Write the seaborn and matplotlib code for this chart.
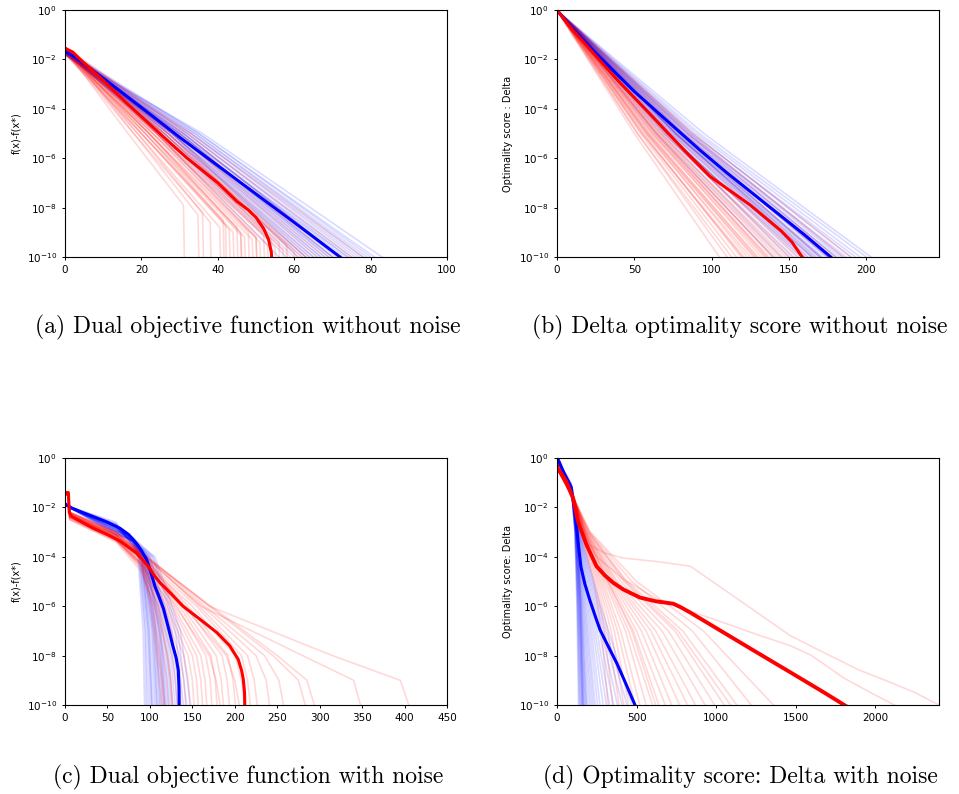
import numpy as np
import pandas as pd
import seaborn as sns
import matplotlib.pyplot as plt
from matplotlib.ticker import NullLocator

# ---------------------------------------------------------------
# Donnees (log10 des valeurs en ordonnee)
# ---------------------------------------------------------------

# (a) fonction objectif duale sans bruit
a_blue_bold_x = [0, 2, 6, 12, 20, 30, 40, 50, 60, 66, 72]
a_blue_bold_y = [-1.68, -1.85, -2.3, -3.0, -3.95, -5.15, -6.3, -7.45, -8.6, -9.3, -10.0]
a_red_bold_x = [0, 2, 5, 10, 16, 22, 28, 32, 36, 40, 45, 48, 50, 52, 53.3, 54, 54.3]
a_red_bold_y = [-1.55, -1.7, -2.15, -2.85, -3.75, -4.6, -5.45, -6.0, -6.5, -7.0, -7.75, -8.1, -8.4, -8.85, -9.3, -9.8, -10.5]

# essais individuels : depart, abscisse a 1e-5, fin
a_blue_y0 = [-1.6, -1.7, -1.65, -1.75, -1.7, -1.8, -1.65, -1.7, -1.75, -1.6, -1.7, -1.8, -1.65, -1.75, -1.7, -1.6,
             -1.8, -1.7, -1.65, -1.75, -1.7, -1.6, -1.8, -1.7, -1.65, -1.75, -1.7, -1.6, -1.8, -1.7, -1.65, -1.75]
a_blue_x5 = [24, 25, 25, 26, 26, 27, 27, 27, 28, 28, 28, 29, 29, 29, 30, 30,
             30, 31, 31, 31, 32, 32, 33, 33, 34, 34, 35, 35, 36, 29, 30, 28]
a_blue_end = [56, 58, 60, 61, 62, 63, 64, 65, 65, 66, 67, 67, 68, 69, 69, 70,
              71, 72, 72, 73, 74, 75, 76, 77, 78, 79, 80, 81, 83, 70, 74, 63]

a_red_y0 = [-1.6, -1.5, -1.7, -1.55, -1.65, -1.8, -1.5, -1.6, -1.75, -1.55, -1.65, -1.5, -1.7, -1.6, -1.55, -1.8,
            -1.65, -1.5, -1.7, -1.6, -1.55, -1.75, -1.6, -1.5, -1.65, -1.7, -1.55, -1.6, -1.5, -1.65, -1.6, -1.55,
            -1.5, -1.6, -1.7, -1.65, -1.55]
a_red_x5 = [16.5, 18, 18, 19, 19, 20, 20, 21, 21, 21, 22, 22, 22, 23, 23, 23,
            24, 24, 24, 25, 25, 26, 26, 27, 27, 28, 26, 28, 29, 29, 30, 31,
            32, 33, 20, 22, 24]
a_red_end = [31, 34.8, 36, 38, 40.5, 41.4, 43, 44, 45, 46, 47, 48, 49, 50, 51, 52,
             53, 54, 55, 56, 57, 58, 59, 60, 61, 62, 63, 64, 66, 68, 70, 72,
             75, 78, 42, 46, 50]
a_red_drop = [-7.9, -8.3, -8.2, -8.6, -8.8, -8.5, -8.9, -9.0, -8.8, -9.1, -9.2, -9.0, -9.3, -9.2, -9.4, -9.1,
              -9.5, -9.3, -9.6, -9.4, -9.7, -9.5, -10, -9.8, -10, -10, -10, -10, -10, -10, -10, -10,
              -10, -10, -8.7, -9.0, -9.2]

# (b) score d'optimalite Delta sans bruit
b_blue_bold_x = [0, 5, 10, 25, 50, 75, 92, 110, 125, 140, 160, 177]
b_blue_bold_y = [0, -0.38, -0.75, -1.75, -3.3, -4.7, -5.65, -6.6, -7.35, -8.1, -9.1, -10.0]
b_red_bold_x = [0, 10, 20, 40, 60, 82, 99, 125, 145, 152, 158.5]
b_red_bold_y = [0, -0.8, -1.5, -2.9, -4.2, -5.66, -6.74, -7.9, -8.95, -9.4, -10.0]

b_blue_x5 = [64, 67, 70, 69, 72, 71, 74, 73, 76, 74, 77, 76, 78, 79, 77, 80,
             81, 79, 82, 84, 82, 85, 86, 84, 88, 87, 90, 92, 95, 76, 77, 71]
b_blue_end = [140, 145, 150, 153, 156, 158, 160, 162, 164, 165, 167, 168, 170, 171, 172, 174,
              175, 176, 178, 180, 181, 183, 185, 187, 190, 193, 196, 200, 203, 170, 165, 160]
b_red_x5 = [50, 52, 52, 54, 56, 55, 58, 57, 59, 60, 59, 62, 61, 63, 62, 65, 64, 66,
            65, 68, 67, 70, 69, 72, 71, 75, 77, 80, 82, 84, 86, 88, 55, 58, 64]
b_red_end = [105, 110, 113, 116, 119, 121, 123, 125, 127, 129, 130, 132, 134, 135, 137, 139, 140, 142,
             144, 146, 148, 150, 152, 155, 158, 162, 166, 170, 175, 180, 185, 190, 120, 128, 136]

# (c) fonction objectif duale avec bruit
c_blue_bold_x = [0, 8, 20, 33, 50, 65, 75, 84, 90, 96, 100, 106, 110, 116, 122, 127, 131, 133.5, 134.3, 134.6]
c_blue_bold_y = [-1.85, -2.03, -2.2, -2.37, -2.6, -2.85, -3.1, -3.45, -3.75, -4.1, -4.5, -5.2, -5.55, -6.1,
                 -6.9, -7.6, -8.1, -8.6, -9.3, -10.5]
c_red_bold_x = [0, 4, 5, 8, 20, 33, 50, 65, 84, 98, 104, 112, 120, 139, 159, 179, 194, 204, 208, 210, 211.5, 212]
c_red_bold_y = [-1.4, -1.4, -2.2, -2.37, -2.6, -2.84, -3.1, -3.37, -3.84, -4.38, -4.7, -5.05, -5.32, -6.0,
                -6.53, -7.07, -7.6, -8.15, -8.6, -8.95, -9.5, -10.5]

# essais bleus : valeurs a t=60 et t=80, abscisses a 1e-4, 1e-7, fin
c_blue_y60 = [-2.6, -2.65, -2.7, -2.75, -2.7, -2.8, -2.8, -2.85, -2.9, -2.75, -2.8, -2.9, -2.95, -2.85,
              -3.0, -2.9, -2.8, -3.0, -2.9, -3.05, -2.95, -3.0, -3.1, -2.95, -3.1, -2.7, -2.85, -2.8]
c_blue_y80 = [-3.6, -3.55, -3.5, -3.5, -3.45, -3.45, -3.4, -3.4, -3.4, -3.35, -3.35, -3.35, -3.4, -3.3,
              -3.4, -3.3, -3.25, -3.35, -3.25, -3.35, -3.25, -3.3, -3.35, -3.2, -3.3, -3.4, -3.4, -3.3]
c_blue_x4 = [86, 87, 88, 88, 89, 90, 90, 91, 92, 92, 93, 93, 94, 94,
             95, 95, 96, 97, 98, 99, 100, 101, 103, 104, 106, 90, 91, 94]
c_blue_x7 = [92, 94, 95, 97, 99, 100, 102, 103, 105, 106, 107, 108, 110, 111,
             113, 114, 116, 118, 120, 122, 124, 126, 130, 133, 136, 98, 104, 112]
c_blue_end = [94, 96, 98, 100, 102, 104, 106, 108, 110, 112, 113, 115, 116, 118,
              120, 122, 124, 126, 128, 131, 134, 137, 141, 145, 150, 103, 109, 119]

# essais rouges : valeurs a t=5, 60, 90 puis abscisses a 1e-6, 1e-8, 1e-9, fin
c_red_y5 = [-2.4, -2.3, -2.5, -2.2, -2.4, -2.3, -2.45, -2.2, -2.35, -2.3, -2.4, -2.25, -2.3, -2.4, -2.2,
            -2.3, -2.25, -2.35, -2.3, -2.2, -2.3, -2.25, -2.2, -2.3, -2.25, -2.2, -2.45, -2.5, -2.3, -2.35]
c_red_y60 = [-3.3, -3.2, -3.4, -3.1, -3.3, -3.2, -3.35, -3.0, -3.25, -3.15, -3.3, -3.1, -3.2, -3.3, -3.0,
             -3.2, -3.1, -3.25, -3.15, -3.0, -3.2, -3.1, -3.05, -3.15, -3.1, -3.0, -3.3, -3.35, -3.1, -3.2]
c_red_y90 = [-4.5, -4.3, -4.6, -4.0, -4.4, -4.1, -4.3, -3.9, -4.2, -4.0, -4.3, -3.9, -4.1, -4.2, -3.8,
             -4.0, -3.9, -4.1, -4.0, -3.8, -3.9, -3.8, -3.85, -3.9, -3.9, -3.8, -4.3, -4.4, -4.0, -4.1]
c_red_x6 = [101, 104, 106, 108, 110, 113, 116, 118, 120, 123, 126, 128, 132, 135, 138,
            142, 145, 150, 155, 158, 162, 165, 170, 172, 160, 170, 110, 103, 140, 130]
c_red_x8 = [108, 112, 116, 121, 126, 131, 135, 140, 145, 150, 155, 160, 166, 172, 178,
            185, 192, 200, 208, 215, 225, 235, 245, 250, 280, 315, 120, 110, 190, 170]
c_red_x9 = [111, 115, 120, 125, 130, 135, 140, 145, 150, 155, 160, 165, 171, 177, 184,
            191, 198, 208, 215, 223, 237, 252, 275, 285, 340, 395, 124, 114, 200, 178]
c_red_end = [115, 118, 123, 128, 133, 138, 143, 148, 153, 158, 163, 168, 174, 180, 188,
             195, 202, 213, 220, 228, 243, 260, 287, 298, 352, 410, 127, 118, 208, 185]

# (d) score d'optimalite Delta avec bruit
d_blue_bold_x = [0, 10, 40, 90, 110, 125, 135, 150, 175, 206, 240, 270, 320, 375, 430, 490]
d_blue_bold_y = [0, -0.1, -0.55, -1.2, -2.0, -2.9, -3.55, -4.4, -5.1, -5.75, -6.4, -6.95, -7.6, -8.3, -9.1, -10.0]
d_red_bold_x = [0, 6, 59, 101, 132, 185, 248, 300, 353, 416, 521, 620, 731, 780, 838, 1048, 1258, 1467, 1677, 1830]
d_red_bold_y = [-0.3, -0.42, -0.96, -1.63, -2.57, -3.51, -4.38, -4.75, -5.05, -5.32, -5.65, -5.8, -5.9, -6.05,
                -6.26, -7.07, -7.88, -8.68, -9.49, -10.1]

# essais bleus : valeur a t=90, abscisses a 1e-3, 1e-6, fin
d_blue_y90 = [-1.2, -1.1, -1.3, -1.2, -1.0, -1.25, -1.15, -1.3, -1.1, -1.2, -1.35, -1.2, -1.1, -1.3, -1.2,
              -1.25, -1.15, -1.3, -1.2, -1.1, -1.25, -1.2, -1.3, -1.15, -1.2, -1.25, -1.3, -1.2, -1.1]
d_blue_x3 = [112, 113, 114, 115, 115, 116, 117, 118, 118, 119, 120, 121, 122, 123, 124,
             125, 126, 127, 128, 130, 132, 134, 136, 138, 140, 142, 145, 128, 125]
d_blue_x6 = [125, 128, 130, 133, 135, 138, 140, 143, 146, 150, 153, 156, 160, 165, 170,
             176, 182, 190, 198, 206, 215, 225, 235, 245, 255, 265, 275, 150, 145]
d_blue_end = [135, 140, 145, 150, 155, 160, 165, 170, 175, 180, 185, 190, 200, 210, 220,
              230, 240, 255, 270, 290, 310, 330, 355, 380, 410, 440, 470, 165, 158]

# essais rouges : valeur a t=100, abscisses a 1e-3, 1e-5, 1e-7, fin
d_red_y100 = [-1.5, -1.6, -1.55, -1.6, -1.5, -1.65, -1.55, -1.6, -1.5, -1.7, -1.6, -1.55,
              -1.65, -1.5, -1.6, -1.55, -1.6, -1.5, -1.65, -1.6, -1.55, -1.6, -1.5]
d_red_x3 = [150, 152, 155, 158, 160, 162, 165, 168, 170, 172, 175, 178,
            180, 182, 185, 188, 190, 195, 200, 205, 210, 200, 175]
d_red_x5 = [230, 240, 250, 260, 270, 280, 290, 300, 310, 320, 330, 340,
            350, 360, 370, 380, 400, 420, 440, 470, 500, 430, 320]
d_red_x7 = [280, 300, 320, 340, 360, 380, 400, 430, 450, 480, 500, 530,
            560, 590, 620, 660, 700, 740, 790, 850, 920, 760, 470]
d_red_end = [320, 350, 390, 420, 450, 490, 520, 560, 600, 640, 680, 720,
             770, 820, 870, 930, 990, 1050, 1130, 1220, 1360, 1090, 620]

# deux essais rouges tres lents
d_tail1_x = [0, 100, 150, 200, 300, 416, 626, 838, 1048, 1258, 1467, 1677, 1886, 2096, 2250, 2400]
d_tail1_y = [-0.35, -1.5, -2.5, -3.5, -3.85, -4.05, -4.19, -4.38, -5.32, -6.26, -7.2, -7.88, -8.55, -9.09, -9.5, -10.0]
d_tail2_x = [0, 100, 160, 250, 416, 626, 838, 1048, 1258, 1467, 1600, 1800, 2000, 2120]
d_tail2_y = [-0.45, -1.6, -3.0, -4.0, -4.9, -5.7, -6.2, -6.67, -7.15, -7.6, -8.0, -8.9, -9.6, -10.0]

captions = ["(a) Dual objective function without noise",
            "(b) Delta optimality score without noise",
            "(c) Dual objective function with noise",
            "(d) Optimality score: Delta with noise"]
ylabels = ["f(x)-f(x*)", "Optimality score : Delta", "f(x)-f(x*)", "Optimality score: Delta"]

BLUE = "#0000ff"
RED = "#ff0000"


def draw_runs(ax, runs, color, alpha, lw):
    rows = []
    for i, (xs, ys) in enumerate(runs):
        for x, y in zip(xs, ys):
            rows.append((i, x, 10.0 ** y))
    df = pd.DataFrame(rows, columns=["run", "it", "val"])
    sns.lineplot(data=df, x="it", y="val", units="run", estimator=None, sort=False,
                 color=color, alpha=alpha, lw=lw, ax=ax, legend=False)


# construction des essais
a_blue_runs = [([0, x5, e], [y0, -5, -10]) for y0, x5, e in zip(a_blue_y0, a_blue_x5, a_blue_end)]
a_red_runs = []
for y0, x5, e, d in zip(a_red_y0, a_red_x5, a_red_end, a_red_drop):
    if d > -10:
        a_red_runs.append(([0, x5, e, e + 0.3], [y0, -5, d, -10.5]))
    else:
        a_red_runs.append(([0, x5, e], [y0, -5, -10]))

b_blue_runs = [([0, x5, e], [-0.02, -5, -10]) for x5, e in zip(b_blue_x5, b_blue_end)]
b_red_runs = [([0, x5, e], [-0.02, -5, -10]) for x5, e in zip(b_red_x5, b_red_end)]

c_blue_runs = [([0, 60, 80, x4, x7, e], [-1.9, y60, y80, -4, -7, -10.5])
               for y60, y80, x4, x7, e in zip(c_blue_y60, c_blue_y80, c_blue_x4, c_blue_x7, c_blue_end)]
c_red_runs = [([0, 4, 5.5, 60, 90, x6, x8, x9, e], [-1.45, -1.5, y5, y60, y90, -6, -8, -9, -10.5])
              for y5, y60, y90, x6, x8, x9, e in zip(c_red_y5, c_red_y60, c_red_y90, c_red_x6,
                                                     c_red_x8, c_red_x9, c_red_end)]

d_blue_runs = [([0, 90, x3, x6, e], [-0.05, y90, -3, -6, -10])
               for y90, x3, x6, e in zip(d_blue_y90, d_blue_x3, d_blue_x6, d_blue_end)]
d_red_runs = [([0, 100, x3, x5, x7, e], [-0.4, y100, -3, -5, -7, -10])
              for y100, x3, x5, x7, e in zip(d_red_y100, d_red_x3, d_red_x5, d_red_x7, d_red_end)]
d_red_runs += [(d_tail1_x, d_tail1_y), (d_tail2_x, d_tail2_y)]

panels = [
    (a_blue_runs, a_red_runs, (a_blue_bold_x, a_blue_bold_y), (a_red_bold_x, a_red_bold_y), 100, [0, 20, 40, 60, 80, 100]),
    (b_blue_runs, b_red_runs, (b_blue_bold_x, b_blue_bold_y), (b_red_bold_x, b_red_bold_y), 247, [0, 50, 100, 150, 200]),
    (c_blue_runs, c_red_runs, (c_blue_bold_x, c_blue_bold_y), (c_red_bold_x, c_red_bold_y), 450, list(range(0, 451, 50))),
    (d_blue_runs, d_red_runs, (d_blue_bold_x, d_blue_bold_y), (d_red_bold_x, d_red_bold_y), 2400, [0, 500, 1000, 1500, 2000]),
]

# positions des 4 axes (pixels de la figure)
W, H = 959, 794
boxes = [(65, 10), (557, 10), (65, 458), (557, 458)]
cap_pos = [(248, 327), (740, 327), (248, 777), (740, 777)]

fig = plt.figure(figsize=(9.59, 7.94), dpi=100)

for k, (blue_runs, red_runs, blue_bold, red_bold, xmax, xticks) in enumerate(panels):
    left, top = boxes[k]
    ax = fig.add_axes([left / W, 1 - (top + 247) / H, 382 / W, 247 / H])

    draw_runs(ax, blue_runs, BLUE, 0.14, 1.2)
    draw_runs(ax, red_runs, RED, 0.15, 1.2)
    draw_runs(ax, [blue_bold], BLUE, 1.0, 2.2)
    draw_runs(ax, [red_bold], RED, 1.0, 2.2 if k < 3 else 2.8)

    ax.set_yscale("log")
    ax.set_ylim(1e-10, 1e0)
    ax.set_xlim(0, xmax)
    ax.set_yticks([1e0, 1e-2, 1e-4, 1e-6, 1e-8, 1e-10])
    ax.yaxis.set_minor_locator(NullLocator())
    ax.set_xticks(xticks)
    ax.tick_params(labelsize=7.5, length=2.5, width=0.7)
    ax.set_xlabel("")
    ax.set_ylabel(ylabels[k], fontsize=7)
    for s in ax.spines.values():
        s.set_linewidth(0.8)

    cx, cy = cap_pos[k]
    fig.text(cx / W, 1 - cy / H, captions[k], ha="center", va="center",
             fontsize=17, family="cmr10")

fig.savefig("out.png", dpi=100)
